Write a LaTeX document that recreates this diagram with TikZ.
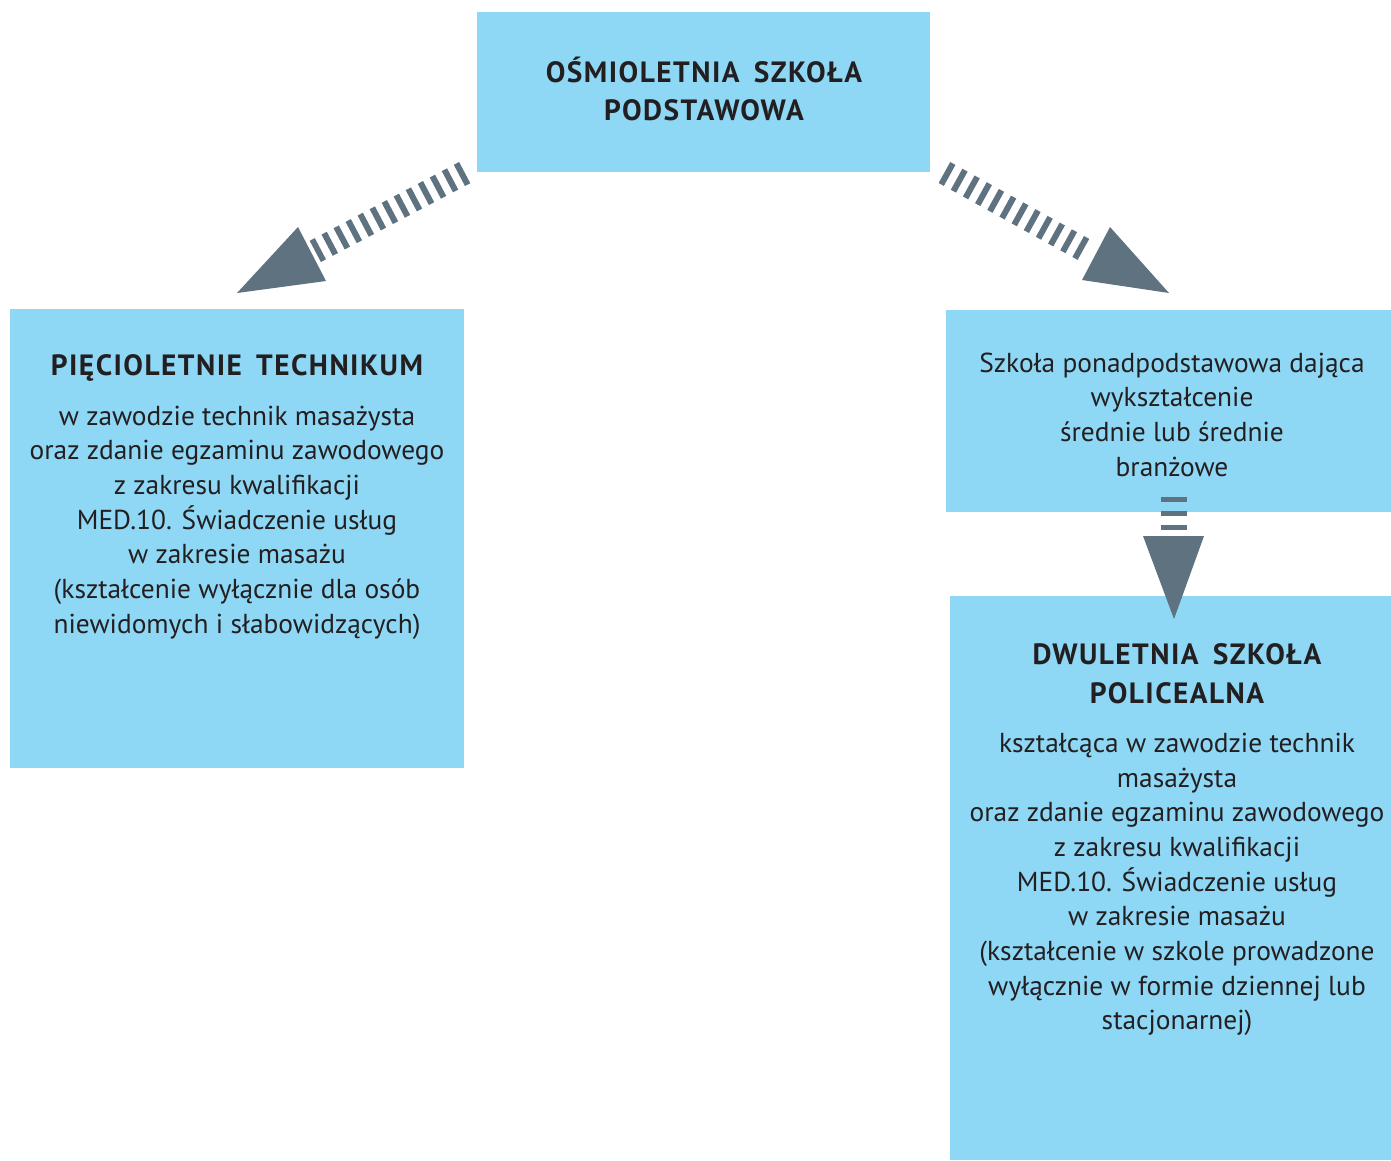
\documentclass[tikz,border=0pt]{standalone}
\usepackage{fontspec}
\setmainfont{PT Sans}
\newfontfamily\headfont[LetterSpace=5,WordSpace=1.6]{PT Sans}
\definecolor{skyfill}{RGB}{142,216,246}
\definecolor{arrowgrey}{RGB}{94,114,128}
\definecolor{ink}{RGB}{35,31,32}

\begin{document}
\begin{tikzpicture}[x=0.02cm, y=-0.02cm]
            \tikzset{box/.style={skyfill}}
            \tikzset{stripes/.style={arrowgrey, line width=0.48cm, dash pattern=on 0.12cm off 0.152cm}}
            \tikzset{head/.style={arrowgrey}}
            \tikzset{txt/.style={text=ink, align=center, font=\fontsize{15.6}{19.7}\selectfont}}
            \tikzset{title/.style={text=ink, align=center, font=\headfont\bfseries\fontsize{16.7}{22}\selectfont}}
            \useasboundingbox (0, 0) rectangle (1391, 1160);
            % boxes
            \fill[box] (477, 12) rectangle (930, 172);
            \fill[box] (10, 309) rectangle (464, 768);
            \fill[box] (946, 310) rectangle (1391, 512);
            \fill[box] (950, 596) rectangle (1391, 1160);
            % arrows
            \coordinate (left-start) at (464.7, 172.6);
            \coordinate (left-end) at (315.3, 251.4);
            \coordinate (left-tip) at (237, 293);
            \draw[stripes] (left-start) -- (left-end);
            \fill[head] (298, 227) -- (left-tip) -- (326, 281) -- cycle;
            \coordinate (right-start) at (944.4, 172.5);
            \coordinate (right-end) at (1083.6, 249.5);
            \coordinate (right-tip) at (1169, 293);
            \draw[stripes, dash pattern=on 0.12cm off 0.158cm] (right-start) -- (right-end);
            \fill[head] (1110, 227) -- (right-tip) -- (1082, 280) -- cycle;
            \coordinate (down-start) at (1174, 496.5);
            \coordinate (down-end) at (1174, 529.5);
            \coordinate (down-tip) at (1174, 619);
            \draw[stripes, line width=0.52cm, dash pattern=on 0.1cm off 0.18cm] (down-start) -- (down-end);
            \fill[head] (1143, 536) -- (1204, 536) -- (down-tip) -- cycle;
            % texts
            \node[title] (primary) at (704, 89) {OŚMIOLETNIA SZKOŁA\\PODSTAWOWA};
            \node[title] (techTitle) at (237, 368) {PIĘCIOLETNIE TECHNIKUM};
            \node[txt] (techText) at (237, 522.5) {w zawodzie technik masażysta\\oraz zdanie egzaminu zawodowego\\z zakresu kwalifikacji\\MED.10. Świadczenie usług\\w zakresie masażu\\(kształcenie wyłącznie dla osób\\niewidomych i słabowidzących)};
            \node[txt] (upper) at (1172, 414.5) {Szkoła ponadpodstawowa dająca\\wykształcenie\\średnie lub średnie\\branżowe};
            \node[title] (postTitle) at (1177, 674) {DWULETNIA SZKOŁA\\POLICEALNA};
            \node[txt] (postText) at (1177, 884.5) {kształcąca w zawodzie technik\\masażysta\\oraz zdanie egzaminu zawodowego\\z zakresu kwalifikacji\\MED.10. Świadczenie usług\\w zakresie masażu\\(kształcenie w szkole prowadzone\\wyłącznie w formie dziennej lub\\stacjonarnej)};
\end{tikzpicture}
\end{document}
